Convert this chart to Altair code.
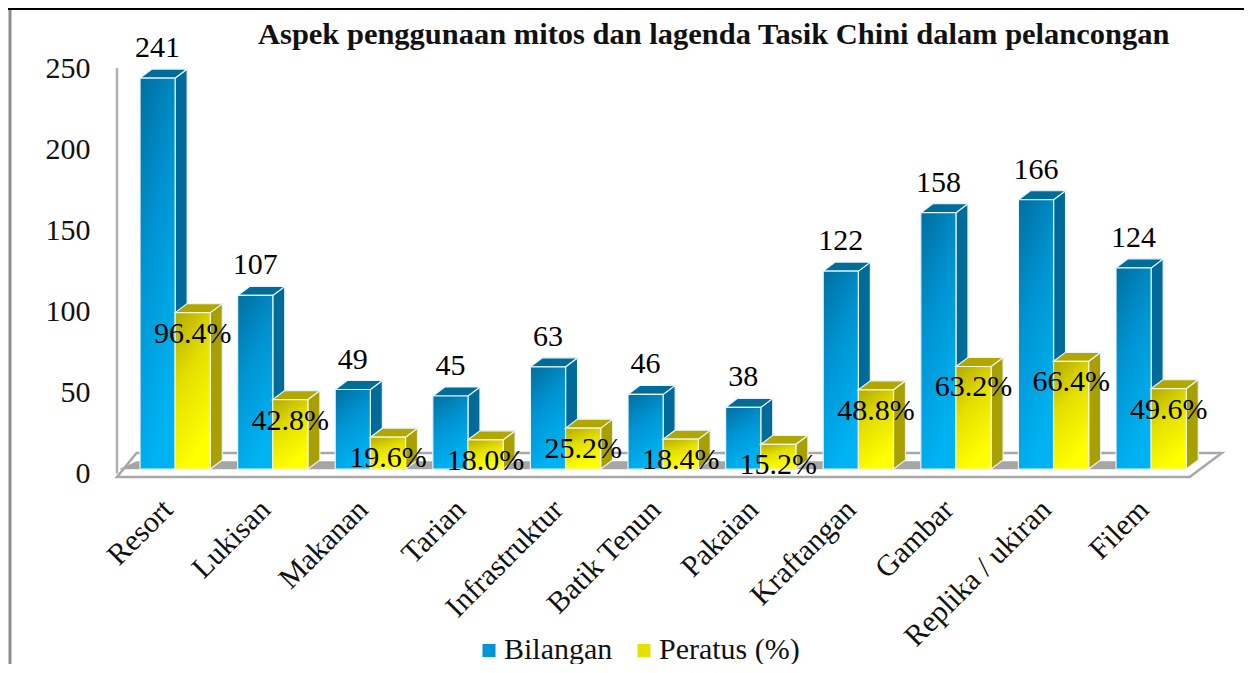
import altair as alt
import pandas as pd

categories = ["Resort", "Lukisan", "Makanan", "Tarian", "Infrastruktur", "Batik Tenun",
              "Pakaian", "Kraftangan", "Gambar", "Replika / ukiran", "Filem"]
counts = [241, 107, 49, 45, 63, 46, 38, 122, 158, 166, 124]
percents = [96.4, 42.8, 19.6, 18.0, 25.2, 18.4, 15.2, 48.8, 63.2, 66.4, 49.6]
series_names = ["Bilangan", "Peratus (%)"]

FONT = "Liberation Serif"
STEP = 97.6
UNIT = 1.622
W, H = 1073.6, 405.5
DX = 12 / STEP
DZ = 9 / UNIT
BAR0 = 0.236
BARW = 0.36
TICK = 0.41

xs = alt.Scale(domain=[0, 11], nice=False, zero=False)
ys = alt.Scale(domain=[0, 250], nice=False, zero=False)

expr = "[" + ",".join(f"'{c}'" for c in categories) + f"][round(datum.value-{TICK})]"
AX_X = alt.Axis(values=[i + TICK for i in range(11)], labelExpr=expr, title=None, domain=False, ticks=False,
                grid=False, labelAngle=-45, labelAlign="right", labelBaseline="top", labelFont=FONT,
                labelFontSize=30, labelColor="#111111", labelPadding=25, labelOverlap=False, labelBound=False,
                labelFlush=False, labelLimit=400)
AX_Y = alt.Axis(values=[0, 50, 100, 150, 200, 250], title=None, domain=False, ticks=False, grid=False,
                labelFont=FONT, labelFontSize=30, labelColor="#111111", labelPadding=27, labelOffset=5)


def front_df(vals, start, name):
    return pd.DataFrame({"x0": [i + start for i in range(11)],
                         "x1": [i + start + BARW for i in range(11)],
                         "xc": [i + start + BARW / 2 for i in range(11)],
                         "v": vals, "base": [0] * 11, "series": name,
                         "label": None})


def side_df(vals, start):
    rows = []
    for i, v in enumerate(vals):
        x = i + start + BARW
        rows.append({"id": i, "x": x, "y": v, "y2": 0})
        rows.append({"id": i, "x": x + DX, "y": v + DZ, "y2": DZ})
    return pd.DataFrame(rows)


def top_df(vals, start):
    rows = []
    for i, v in enumerate(vals):
        x = i + start
        rows.append({"id": i, "x": x, "y": v, "y2": v})
        rows.append({"id": i, "x": x + DX, "y": v + DZ, "y2": v})
        rows.append({"id": i, "x": x + BARW, "y": v + DZ, "y2": v})
        rows.append({"id": i, "x": x + BARW + DX, "y": v + DZ, "y2": v + DZ})
    return pd.DataFrame(rows)


def poly(df, fill, stroke="#e8f4f8", sw=1.2):
    return alt.Chart(df).mark_area(fill=fill, stroke=stroke, strokeWidth=sw, interpolate="linear").encode(
        x=alt.X("x:Q", scale=xs, axis=AX_X),
        y=alt.Y("y:Q", scale=ys, axis=AX_Y, stack=None),
        y2="y2:Q",
        detail="id:N",
    )


def grad(stops):
    return alt.Gradient(gradient="linear", x1=0, y1=0, x2=0.35, y2=1,
                        stops=[alt.GradientStop(offset=o, color=c) for o, c in stops])


blue_grad = grad([(0, "#006f9f"), (0.45, "#0093d2"), (1, "#00b2f2")])
yellow_grad = grad([(0, "#b3aa00"), (0.45, "#e4df00"), (1, "#ffff00")])

blue = front_df(counts, BAR0, series_names[0])
yellow = front_df(percents, BAR0 + BARW, series_names[1])
both = pd.concat([blue, yellow])
blue["label"] = [str(c) for c in counts]
yellow["label"] = [f"{p:.1f}%" for p in percents]

floor = pd.DataFrame({"id": 0, "x": [0, 0.2, 10.99, 11.32], "y": [-4.9, 9.9, 9.9, 9.9], "y2": [-4.9, -4.9, -4.9, 9.9]})
shadow = pd.DataFrame({"id": 0, "x": [0.03, 0.2, 10.9], "y": [0, 4.6, 4.6], "y2": [0, 0, 0]})

one = pd.DataFrame({"a": [0]})
frame_left = alt.Chart(one).mark_rule(color="#8c8c8c", strokeWidth=3).encode(
    x=alt.value(-107), y=alt.value(-55), y2=alt.value(610))
frame_top = alt.Chart(one).mark_rule(color="#000000", strokeWidth=2).encode(
    x=alt.value(-109), x2=alt.value(1127), y=alt.value(-54.5))
wall = alt.Chart(one).mark_rule(color="#b0b0b0", strokeWidth=2.5).encode(
    x=alt.value(0), y=alt.value(4.5), y2=alt.value(410))


def rect(df, **kw):
    return alt.Chart(df).mark_rect(**kw).encode(
        x=alt.X("x0:Q", scale=xs, axis=AX_X), x2="x1:Q",
        y=alt.Y("v:Q", scale=ys, axis=AX_Y), y2="base:Q")


legend_layer = alt.Chart(both).mark_rect().encode(
    x=alt.X("x0:Q", scale=xs, axis=AX_X), x2="x1:Q",
    y=alt.Y("v:Q", scale=ys, axis=AX_Y), y2="base:Q",
    color=alt.Color("series:N", scale=alt.Scale(domain=series_names, range=["#0096d6", "#e6e000"]),
                    legend=alt.Legend(title=None, orient="none", legendX=357, legendY=572, direction="horizontal",
                                      symbolType="square", symbolSize=170, symbolStrokeWidth=0, labelFont=FONT,
                                      labelFontSize=30, labelColor="#111111", labelOffset=0, columnPadding=16)),
)


def label(df, dy):
    return alt.Chart(df).mark_text(font=FONT, fontSize=30, color="#000000", baseline="middle", dy=dy).encode(
        x=alt.X("xc:Q", scale=xs, axis=AX_X), y=alt.Y("v:Q", scale=ys, axis=AX_Y), text="label:N")


chart = alt.layer(
    frame_left, frame_top, poly(floor, "#ffffff", stroke="#a8a8a8", sw=2.5),
    poly(shadow, "#a6a6a6", stroke="#a6a6a6", sw=0.5), wall,
    poly(side_df(counts, BAR0), "#006a98"),
    poly(top_df(counts, BAR0), "#006c9a"),
    legend_layer,
    rect(blue, fill=blue_grad, stroke="#e8f4f8", strokeWidth=1.2),
    poly(side_df(percents, BAR0 + BARW), "#a8a000"),
    poly(top_df(percents, BAR0 + BARW), "#b0a800"),
    rect(yellow, fill=yellow_grad, stroke="#f4f4d8", strokeWidth=1.2),
    label(blue, -30),
    label(yellow, 21),
).properties(
    width=W, height=H,
    title=alt.TitleParams("Aspek penggunaan mitos dan lagenda Tasik Chini dalam pelancongan",
                          font=FONT, fontSize=30.5, fontWeight="bold", color="#111111",
                          anchor="start", frame="group", dx=141, dy=55, offset=12),
    autosize=alt.AutoSizeParams(type="none"),
    padding={"left": 109, "top": 55.5, "right": 53, "bottom": 195},
).configure_view(stroke=None)

chart.save("out.html", embed_options={"renderer": "svg", "actions": False})
